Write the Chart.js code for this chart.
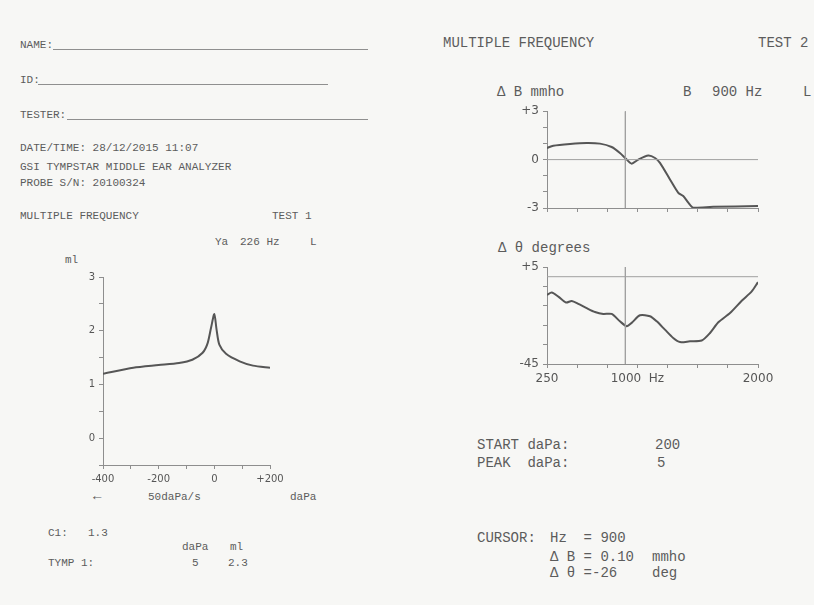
<!DOCTYPE html>
<html>
<head>
<meta charset="utf-8">
<script src="https://cdn.jsdelivr.net/npm/chart.js@4.4.1/dist/chart.umd.min.js"></script>
<style>
  body { margin: 0; background: #f7f7f5; }
  #page { position: relative; width: 814px; height: 605px; overflow: hidden; color: #5c5c5c; font-family: 'Liberation Mono', monospace; }
  .t { position: absolute; white-space: pre; line-height: 1; }
  .s { font-size: 11px; }
  .b { font-size: 14px; }
  .rule { position: absolute; height: 0; border-top: 1px solid #8f8f8f; }
  canvas { position: absolute; }
</style>
</head>
<body>
<div id="page">
  <!-- left printout header -->
  <div class="t s" style="left:20px;top:40px">NAME:</div>
  <div class="rule" style="left:53px;top:49px;width:315px"></div>
  <div class="t s" style="left:20px;top:75px">ID:</div>
  <div class="rule" style="left:38px;top:84px;width:290px"></div>
  <div class="t s" style="left:20px;top:110px">TESTER:</div>
  <div class="rule" style="left:67px;top:119px;width:301px"></div>
  <div class="t s" style="left:20px;top:143px">DATE/TIME: 28/12/2015 11:07</div>
  <div class="t s" style="left:20px;top:162px">GSI TYMPSTAR MIDDLE EAR ANALYZER</div>
  <div class="t s" style="left:20px;top:178px">PROBE S/N: 20100324</div>
  <div class="t s" style="left:20px;top:211px">MULTIPLE FREQUENCY</div>
  <div class="t s" style="left:272px;top:211px">TEST 1</div>
  <div class="t s" style="left:215px;top:237px">Ya</div>
  <div class="t s" style="left:240px;top:237px">226 Hz</div>
  <div class="t s" style="left:310px;top:237px">L</div>
  <div class="t s" style="left:65px;top:255px">ml</div>
  <div class="t b" style="left:93px;top:489px">&#8592;</div>
  <div class="t s" style="left:148px;top:492px">50daPa/s</div>
  <div class="t s" style="left:290px;top:492px">daPa</div>
  <div class="t s" style="left:48px;top:528px">C1:</div>
  <div class="t s" style="left:88px;top:528px">1.3</div>
  <div class="t s" style="left:182px;top:542px">daPa</div>
  <div class="t s" style="left:230px;top:542px">ml</div>
  <div class="t s" style="left:48px;top:558px">TYMP 1:</div>
  <div class="t s" style="left:192px;top:558px">5</div>
  <div class="t s" style="left:228px;top:558px">2.3</div>

  <!-- right printout -->
  <div class="t b" style="left:443px;top:36px">MULTIPLE FREQUENCY</div>
  <div class="t b" style="left:758px;top:36px">TEST 2</div>
  <div class="t b" style="left:497px;top:85px">&#916; B mmho</div>
  <div class="t b" style="left:683px;top:85px">B</div>
  <div class="t b" style="left:712px;top:85px">900 Hz</div>
  <div class="t b" style="left:803px;top:85px">L</div>
  <div class="t b" style="left:498px;top:241px">&#916; &#952; degrees</div>
  <div class="t b" style="left:477px;top:438px">START daPa:</div>
  <div class="t b" style="left:655px;top:438px">200</div>
  <div class="t b" style="left:477px;top:456px">PEAK  daPa:</div>
  <div class="t b" style="left:657px;top:456px">5</div>
  <div class="t b" style="left:477px;top:531px">CURSOR:</div>
  <div class="t b" style="left:550px;top:531px">Hz  = 900</div>
  <div class="t b" style="left:550px;top:550px">&#916; B = 0.10</div>
  <div class="t b" style="left:652px;top:550px">mmho</div>
  <div class="t b" style="left:550px;top:566px">&#916; &#952; =-26</div>
  <div class="t b" style="left:652px;top:566px">deg</div>

  <canvas id="tymp" width="250" height="230" style="left:50px;top:265px"></canvas>
  <canvas id="susc" width="310" height="120" style="left:490px;top:100px"></canvas>
  <canvas id="phase" width="310" height="140" style="left:490px;top:255px"></canvas>
</div>

<script>
// tympanogram, 226 Hz
const pressure = [-400, -291, -200, -127, -79, -42, -24, -12, 0, 8, 18, 42, 91, 139, 200];
const admittance = [1.2, 1.31, 1.36, 1.4, 1.46, 1.59, 1.77, 2.05, 2.31, 2.02, 1.74, 1.57, 1.43, 1.35, 1.31];
const pressureTicks = [-400, -300, -200, -100, 0, 100, 200];
const pressureLabels = { '-400': '-400', '-200': '-200', '0': '0', '200': '+200' };
const admittanceTicks = [-0.5, 0, 0.5, 1, 1.5, 2, 2.5, 3];
const admittanceLabels = { '0': '0', '1': '1', '2': '2', '3': '3' };

// multiple frequency, delta B
const freqB = [250, 302, 441, 579, 689, 786, 855, 911, 952, 1007, 1090, 1146, 1187, 1270, 1339, 1380, 1422, 1463, 1629, 2000];
const deltaB = [0.72, 0.86, 0.97, 1.03, 0.99, 0.78, 0.41, 0.0, -0.25, 0.0, 0.25, 0.1, -0.2, -1.23, -2.06, -2.26, -2.67, -2.98, -2.93, -2.88];
const bTicks = [-3, -2, -1, 0, 1, 2, 3];
const bLabels = { '3': '+3', '0': '0', '-3': '-3' };

// multiple frequency, delta theta
const freqTheta = [250, 289, 344, 408, 455, 510, 579, 648, 717, 786, 855, 911, 952, 1021, 1104, 1160, 1228, 1297, 1353, 1436, 1533, 1602, 1671, 1768, 1865, 1948, 2000];
const deltaTheta = [-9.4, -8.2, -10.3, -13.3, -12.5, -14, -16.2, -18.2, -19.2, -19.2, -23, -25.5, -23.8, -19.9, -20.4, -23, -27.3, -31.6, -33.7, -33.3, -32.9, -29, -23.5, -18.7, -12.4, -7.6, -2.8];
const thetaTicks = [5, -5, -15, -25, -35, -45];
const thetaLabels = { '5': '+5', '-45': '-45' };

const freqTicks = [250, 500, 750, 1000, 1250, 1500, 1750, 2000];
const freqLabels = { '250': '250', '1000': '1000  Hz', '2000': '2000' };

// cursor and zero reference
const cursorHz = [900, 900];
const cursorB = [3, -3];
const cursorTheta = [5, -45];
const refHz = [250, 2000];
const refZero = [0, 0];

const ink = '#565656';
const axisInk = '#8e8e8e';

const pts = (xs, ys) => xs.map((x, i) => ({ x: x, y: ys[i] }));

function axis(min, max, ticks, labels, size, fontSize) {
  return {
    type: 'linear',
    min: min,
    max: max,
    afterBuildTicks: (a) => { a.ticks = ticks.map((v) => ({ value: v })); },
    afterFit: (a) => {
      if (a.isHorizontal()) a.height = size;
      else a.width = size;
    },
    grid: { drawOnChartArea: false, tickLength: 4, color: axisInk },
    border: { color: axisInk },
    ticks: {
      autoSkip: false,
      maxRotation: 0,
      padding: 4,
      color: ink,
      font: { family: 'DejaVu Sans', size: fontSize },
      callback: (v) => labels ? (labels[v] || '') : '',
    },
  };
}

function curve(data, width, color) {
  return { data: data, borderColor: color, borderWidth: width, pointRadius: 0, tension: 0.25, fill: false };
}

function straight(data) {
  return { data: data, borderColor: '#a0a0a0', borderWidth: 1, pointRadius: 0, tension: 0, fill: false };
}

function baseOptions(padding, xAxis, yAxis) {
  return {
    responsive: false,
    animation: false,
    layout: { padding: padding },
    plugins: { legend: { display: false }, tooltip: { enabled: false } },
    scales: { x: xAxis, y: yAxis },
  };
}

new Chart(document.getElementById('tymp'), {
  type: 'line',
  data: { datasets: [curve(pts(pressure, admittance), 2, ink)] },
  options: baseOptions(
    { top: 12, right: 30, left: 0, bottom: 0 },
    axis(-400, 200, pressureTicks, pressureLabels, 30, 10),
    axis(-0.5, 3, admittanceTicks, admittanceLabels, 53, 10)
  ),
});

new Chart(document.getElementById('susc'), {
  type: 'line',
  data: {
    datasets: [
      straight(pts(refHz, refZero)),
      straight(pts(cursorHz, cursorB)),
      curve(pts(freqB, deltaB), 2, ink),
    ],
  },
  options: baseOptions(
    { top: 11, right: 42, left: 0, bottom: 0 },
    axis(250, 2000, freqTicks, null, 12, 12),
    axis(-3, 3, bTicks, bLabels, 57, 12)
  ),
});

new Chart(document.getElementById('phase'), {
  type: 'line',
  data: {
    datasets: [
      straight(pts(refHz, refZero)),
      straight(pts(cursorHz, cursorTheta)),
      curve(pts(freqTheta, deltaTheta), 2, ink),
    ],
  },
  options: baseOptions(
    { top: 12, right: 42, left: 0, bottom: 0 },
    axis(250, 2000, freqTicks, freqLabels, 31, 12),
    axis(-45, 5, thetaTicks, thetaLabels, 57, 12)
  ),
});
</script>
</body>
</html>
